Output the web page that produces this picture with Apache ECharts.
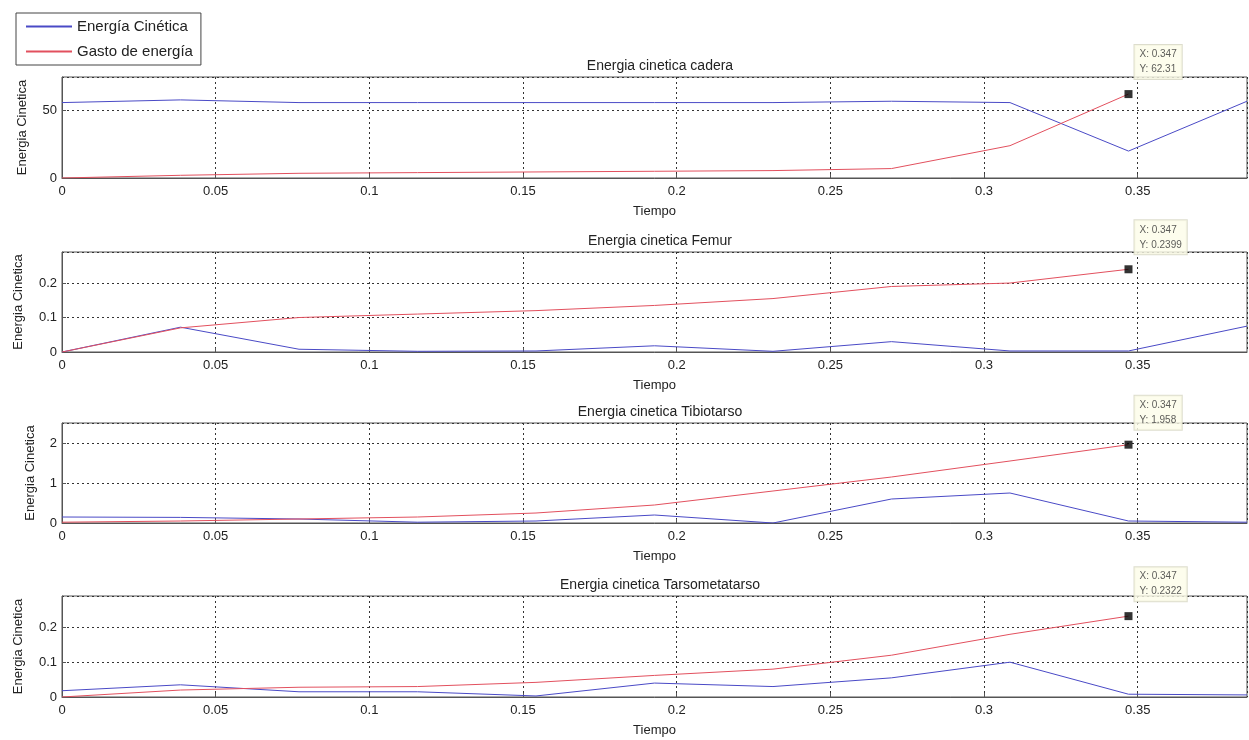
<!DOCTYPE html>
<html>
<head>
<meta charset="utf-8">
<script src="https://cdn.jsdelivr.net/npm/echarts@6/dist/echarts.min.js"></script>
<style>
html,body{margin:0;padding:0;background:#fff;}
#main{width:1249px;height:740px;}
</style>
</head>
<body>
<div id="main"></div>
<script>
// ---- data ----
const tiempo = [0, 0.03856, 0.07711, 0.11567, 0.15422, 0.19278, 0.23133, 0.26989, 0.30844, 0.347, 0.38556];
const titulos = ['Energia cinetica cadera', 'Energia cinetica Femur', 'Energia cinetica Tibiotarso', 'Energia cinetica Tarsometatarso'];
const serieNombres = ['Energía Cinética', 'Gasto de energía'];

const caderaCinetica = [56, 58, 56, 56, 56, 56, 56, 57, 56, 20, 57];
const caderaGasto    = [0, 2, 3.5, 4, 4.5, 5, 5.5, 7, 24, 62.31];

const femurCinetica = [0, 0.072, 0.008, 0.002, 0.003, 0.018, 0.002, 0.03, 0.003, 0.003, 0.075];
const femurGasto    = [0, 0.07, 0.1, 0.11, 0.12, 0.135, 0.155, 0.19, 0.2, 0.2399];

const tibioCinetica = [0.15, 0.14, 0.1, 0.02, 0.05, 0.2, 0.0, 0.6, 0.75, 0.05, 0.02];
const tibioGasto    = [0.02, 0.05, 0.1, 0.15, 0.25, 0.45, 0.8, 1.15, 1.55, 1.958];

const tarsoCinetica = [0.018, 0.035, 0.015, 0.015, 0.003, 0.04, 0.03, 0.055, 0.1, 0.008, 0.006];
const tarsoGasto    = [0, 0.02, 0.028, 0.03, 0.042, 0.062, 0.08, 0.12, 0.18, 0.2322];

const cursorX = 0.347;
const cursorYTexto = ['62.31', '0.2399', '1.958', '0.2322'];
const cursorY = [62.31, 0.2399, 1.958, 0.2322];

const xMax = 0.38556;
const xTickInterval = 0.05;
const yMax = [75, 0.29, 2.5, 0.29];
const yInterval = [50, 0.1, 1, 0.1];

// ---- layout / style ----
const cineticas = [caderaCinetica, femurCinetica, tibioCinetica, tarsoCinetica];
const gastos = [caderaGasto, femurGasto, tibioGasto, tarsoGasto];
const tops = [77, 252, 423, 596];
const heights = [101, 100, 100, 101];
const yNameGap = [33, 37, 25, 37];
const FONT = 'Liberation Sans, Arial, sans-serif';
const BLUE = '#4a4ac6';
const RED = '#e2505e';
const colores = [BLUE, RED];
const gridLine = {show: true, lineStyle: {color: '#333', width: 1, type: [2, 3]}};
const lineIcon = 'path://M0,0 H46 V2 H0 Z';

const grids = [], xAxes = [], yAxes = [], series = [], titles = [];
for (let i = 0; i < 4; i++) {
  grids.push({left: 62, right: 2, top: tops[i], height: heights[i], show: true,
    borderColor: '#555', borderWidth: 1, backgroundColor: '#fff'});
  titles.push({text: titulos[i], left: 655, top: tops[i] - 23, textAlign: 'center',
    textStyle: {fontFamily: FONT, fontSize: 14, fontWeight: 'normal', color: '#222'}});
  xAxes.push({type: 'value', gridIndex: i, min: 0, max: xMax, interval: xTickInterval,
    name: 'Tiempo', nameLocation: 'middle', nameGap: 27,
    nameTextStyle: {fontFamily: FONT, fontSize: 13, color: '#222'},
    axisLine: {show: true, onZero: false, lineStyle: {color: '#555'}},
    axisTick: {show: true, inside: true, length: 4, lineStyle: {color: '#555'}},
    axisLabel: {fontFamily: FONT, fontSize: 13, color: '#222', margin: 7, showMaxLabel: false,
      formatter: v => String(+v.toFixed(2))},
    splitLine: gridLine});
  yAxes.push({type: 'value', gridIndex: i, min: 0, max: yMax[i], interval: yInterval[i],
    name: 'Energia Cinetica', nameLocation: 'middle', nameGap: yNameGap[i], nameRotate: 90,
    nameTextStyle: {fontFamily: FONT, fontSize: 13, color: '#222'},
    axisLine: {show: true, lineStyle: {color: '#555'}},
    axisTick: {show: true, inside: true, length: 4, lineStyle: {color: '#555'}},
    axisLabel: {fontFamily: FONT, fontSize: 13, color: '#222', margin: 5, showMaxLabel: false,
      formatter: v => String(+v.toFixed(2))},
    splitLine: gridLine});
  series.push({name: serieNombres[0], type: 'line', xAxisIndex: i, yAxisIndex: i,
    data: tiempo.map((t, k) => [t, cineticas[i][k]]), symbol: 'none',
    lineStyle: {color: BLUE, width: 1}, itemStyle: {color: BLUE}, animation: false});
  series.push({name: serieNombres[1], type: 'line', xAxisIndex: i, yAxisIndex: i,
    data: gastos[i].map((v, k) => [tiempo[k], v]), symbol: 'none',
    lineStyle: {color: RED, width: 1}, itemStyle: {color: RED}, animation: false});
  series.push({name: 'cursor' + i, type: 'scatter', xAxisIndex: i, yAxisIndex: i,
    data: [[cursorX, cursorY[i]]], symbol: 'rect', symbolSize: 8, z: 10,
    itemStyle: {color: '#000'}, animation: false, clip: false,
    label: {show: true, position: [10, -45], formatter: 'X: ' + cursorX + '\nY: ' + cursorYTexto[i],
      fontFamily: FONT, fontSize: 10, lineHeight: 15, color: '#333',
      backgroundColor: '#fdfde8', borderColor: '#d4d4c0', borderWidth: 1, padding: [2, 5, 2, 5]}});
}

const chart = echarts.init(document.getElementById('main'), null, {renderer: 'canvas'});
chart.setOption({
  animation: false,
  backgroundColor: '#fff',
  title: titles,
  legend: {data: serieNombres.map((n, k) => ({name: n, icon: lineIcon,
      itemStyle: {color: colores[k], borderWidth: 0, opacity: 1}})),
    orient: 'vertical', left: 16, top: 13,
    itemWidth: 46, itemHeight: 14, itemGap: 10, padding: [6, 8, 6, 10],
    borderColor: '#444', borderWidth: 1, backgroundColor: '#fff',
    textStyle: {fontFamily: FONT, fontSize: 15, color: '#222'}},
  grid: grids, xAxis: xAxes, yAxis: yAxes, series: series
});
</script>
</body>
</html>
